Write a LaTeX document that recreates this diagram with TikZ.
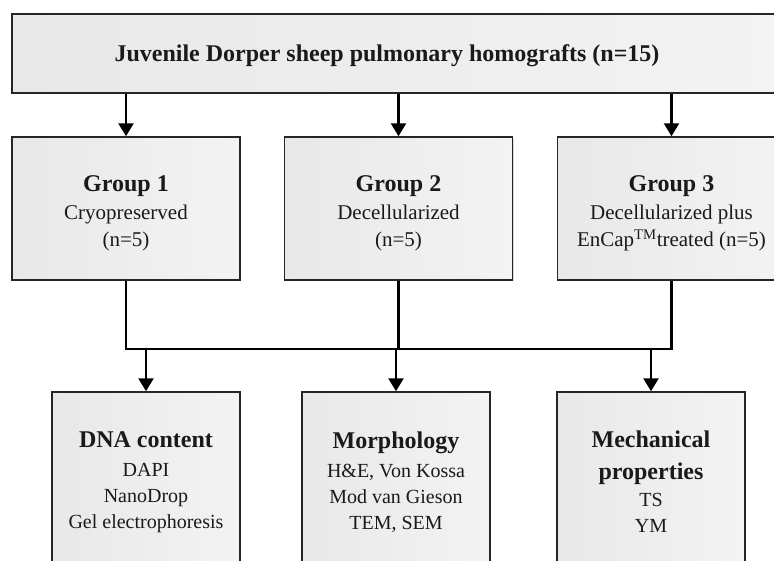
\documentclass[tikz,border=0pt]{standalone}
\usepackage{fontspec}
\setmainfont{Liberation Serif}
\usetikzlibrary{arrows.meta,shadows}
\definecolor{boxL}{HTML}{E8E8E8}
\definecolor{boxR}{HTML}{F3F3F3}
\definecolor{txt}{HTML}{1A1A1A}
\newcommand{\ttl}[1]{{\bfseries\fontsize{24}{27}\selectfont #1}}
\newcommand{\topstrut}[1]{\rule{0pt}{#1}}
\begin{document}
\begin{tikzpicture}[x=1pt,y=-1pt,
  box/.style={draw=black!85,line width=1.5pt,left color=boxL,right color=boxR,
    inner sep=0pt,align=center,text=txt,
    drop shadow={shadow xshift=1.2pt,shadow yshift=-1.2pt,opacity=0.3}},
  grp/.style={box,minimum width=228pt,minimum height=143pt,font=\fontsize{21}{27}\selectfont},
  res/.style={box,minimum width=188pt,minimum height=180pt,font=\fontsize{20}{26}\selectfont},
  conn/.style={line width=2.5pt,black},
  arr/.style={conn,-{Triangle[length=13pt,width=15pt]}}]
\useasboundingbox (0,0) rectangle (774,560);
\clip (0,0) rectangle (774,560);
\node[box,minimum width=778pt,minimum height=79pt,text depth=0pt,font=\bfseries\fontsize{24}{27}\selectfont] (top) at (401,53.5)
  {\hspace*{-28pt}Juvenile Dorper sheep pulmonary homografts (n=15)};
\node[grp] (g1) at (126,208.5) {\topstrut{26pt}\ttl{Group 1}\\[1pt]Cryopreserved\\(n=5)};
\node[grp] (g2) at (398.5,208.5) {\topstrut{26pt}\ttl{Group 2}\\[1pt]Decellularized\\(n=5)};
\node[grp] (g3) at (671.5,208.5) {\topstrut{26pt}\ttl{Group 3}\\[1pt]Decellularized plus\\EnCap\textsuperscript{TM}treated (n=5)};
\node[res] (b1) at (146,482) {\ttl{DNA content}\\[3.5pt]DAPI\\NanoDrop\\Gel electrophoresis};
\node[res] (b2) at (396,482) {\ttl{Morphology}\\[3.5pt]H\&E, Von Kossa\\Mod van Gieson\\TEM, SEM};
\node[res] (b3) at (651,482) {\ttl{Mechanical}\\[6pt]\ttl{properties}\\[1pt]TS\\YM};
\coordinate (bus) at (0,349);
\draw[arr] (top.south -| g1) -- (g1.north);
\draw[arr] (top.south -| g2) -- (g2.north);
\draw[arr] (top.south -| g3) -- (g3.north);
\draw[conn] (g1.south) -- (g1.south |- bus) -- (g3.south |- bus) -- (g3.south);
\draw[conn] (g2.south) -- (g2.south |- bus);
\draw[arr] (b1.north |- bus) -- (b1.north);
\draw[arr] (b2.north |- bus) -- (b2.north);
\draw[arr] (b3.north |- bus) -- (b3.north);
\end{tikzpicture}
\end{document}
